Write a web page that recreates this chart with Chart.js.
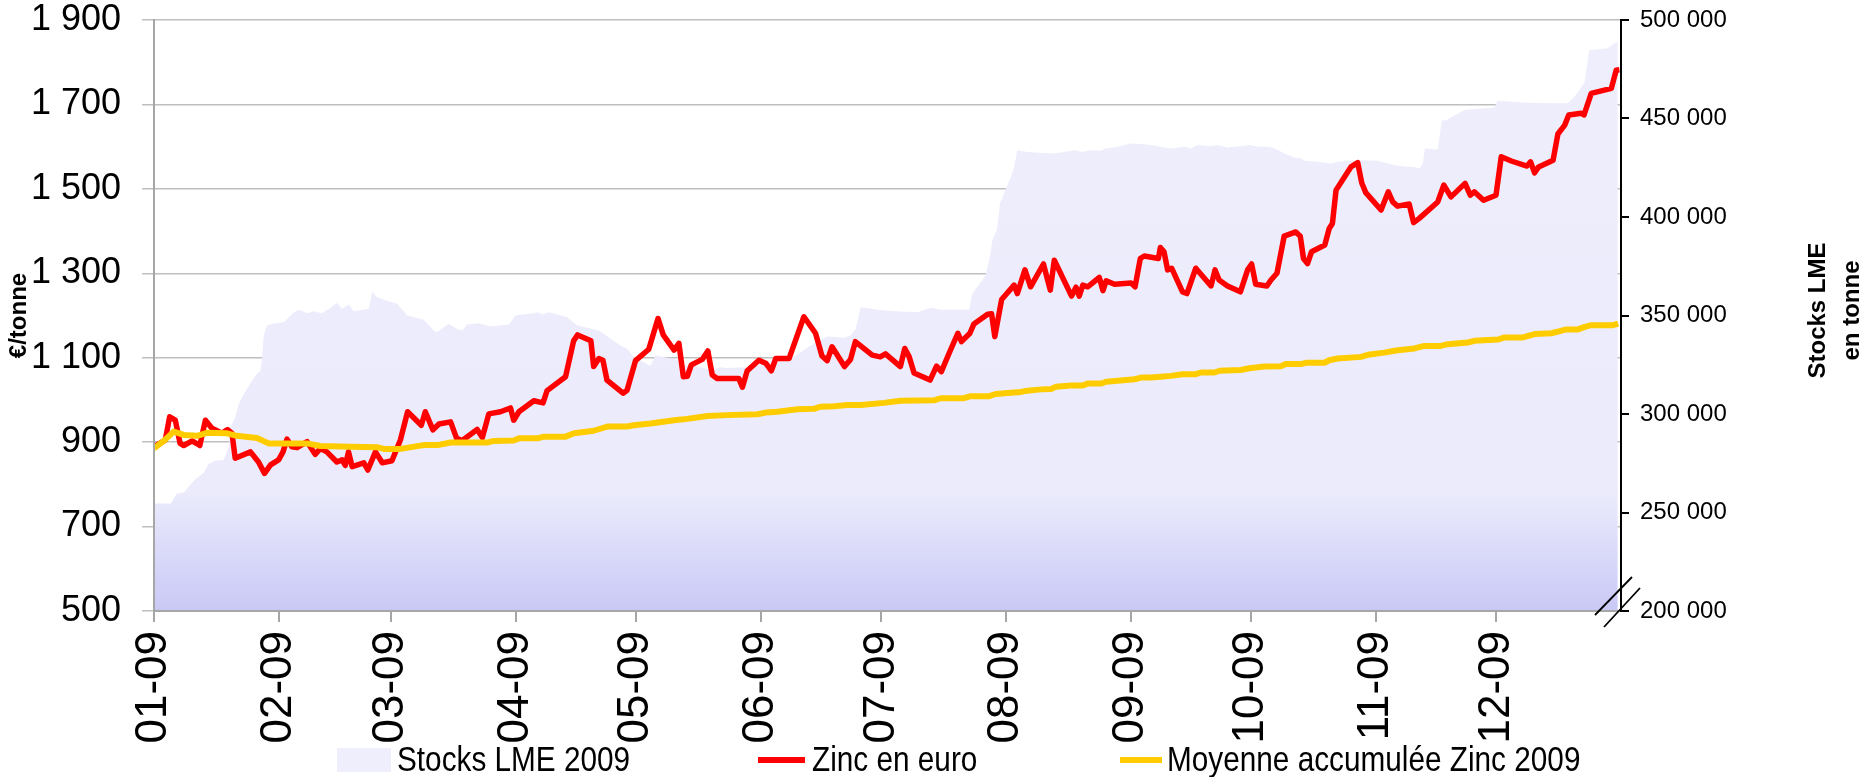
<!DOCTYPE html>
<html lang="fr">
<head>
<meta charset="utf-8">
<title>Zinc 2009</title>
<script src="https://cdn.jsdelivr.net/npm/chart.js@4.4.1/dist/chart.umd.min.js"></script>
<style>
    html, body { margin: 0; padding: 0; background: #fff; }
    #wrap { width: 1868px; height: 777px; }
</style>
</head>
<body>
<div id="wrap"><canvas id="zincChart" width="1868" height="777"></canvas></div>
<script>
// --- 1. Data (day of year 2009, 0 = 1 Jan) ---

const MONTH_DAYS = [0, 31, 59, 90, 120, 151, 181, 212, 243, 273, 304, 334];
const MONTH_LABELS = ['01-09', '02-09', '03-09', '04-09', '05-09', '06-09',
                      '07-09', '08-09', '09-09', '10-09', '11-09', '12-09'];

const PRICE_TICKS = { min: 500, max: 1900, step: 200 };
const STOCK_TICKS = { min: 200000, max: 500000, step: 50000 };

// Zinc en euro (€/tonne)
const ZINC_DAYS = [
    0, 2.8, 3.9, 5.3, 6.5, 7.4, 9.5, 11.4, 12.8, 14.4, 16.9, 18.3, 19.4, 20.2, 24, 26, 27.5, 29,
    31, 32.1, 33.1, 34.3, 35.6, 38.1, 40.1, 41.4, 43, 45.5, 46.8, 47.6, 48.4, 49.3, 52.2, 53.2,
    55.1, 56.8, 59.2, 61.3, 63.1, 66.5, 67.5, 69.4, 70.9, 73.8, 75.3, 76.7, 80.4, 81.7, 83.3,
    86.2, 88.7, 89.5, 90.8, 94.5, 96.8, 97.8, 102.4, 104.4, 105.4, 108.7, 109.4, 110.7, 111.7,
    112.7, 116.7, 117.7, 119.8, 123.1, 125.4, 126.7, 129.4, 130.6, 131.7, 132.7, 133.7, 136.4,
    137.8, 138.9, 140.1, 145.5, 146.4, 147.6, 150.5, 152.2, 153.6, 154.7, 158, 161.7, 164.6,
    166.2, 167.5, 168.7, 171.8, 173.3, 174.5, 178.7, 180.7, 182, 183.6, 185.7, 186.8, 187.9,
    189.1, 193.1, 194.7, 195.9, 197.8, 200, 200.9, 203, 204, 207.4, 208.4, 209.2, 210.9, 214,
    214.8, 216.7, 218.1, 221.3, 223, 224, 228.3, 229.4, 230.2, 231.1, 232.3, 235.2, 236.1, 236.9,
    239, 243.1, 244.1, 245.4, 246.4, 249.9, 250.4, 251.3, 252.2, 253.2, 255.9, 257, 259.2, 263,
    264, 265, 267.1, 270.3, 272.1, 273.1, 274.1, 276.9, 277.9, 279.4, 281.2, 284.1, 285.2, 286,
    287, 288, 291.3, 292.4, 293.2, 294.1, 297.8, 299.5, 300.5, 301.5, 305.3, 307.1, 308.2, 309.4,
    312.3, 313.4, 314.8, 319.4, 320.9, 322.7, 326.2, 327.5, 328.5, 330.8, 333.9, 335.2, 337.7,
    341.6, 342.5, 343.5, 344.5, 348.1, 349.3, 351, 352, 355.1, 355.8, 357.6, 362.6, 363.8, 364.6
];
const ZINC_EUR = [
    889, 905, 960, 952, 897, 892, 903, 892, 952, 933, 921, 930, 921, 862, 877, 853, 826, 846,
    858, 877, 907, 889, 887, 901, 871, 885, 877, 853, 858, 845, 877, 842, 851, 834,
    877, 851, 856, 905, 972, 940, 972, 929, 943, 948, 909, 904, 930, 911, 967,
    972, 981, 952, 972, 998, 993, 1022, 1055, 1140, 1154, 1140, 1079, 1098, 1094,
    1047, 1016, 1023, 1093, 1120, 1193, 1154, 1118, 1134, 1055, 1056, 1083, 1096,
    1116, 1059, 1051, 1051, 1030, 1069, 1094, 1087, 1069, 1098, 1098, 1197, 1158,
    1104, 1093, 1126, 1079, 1096, 1138, 1106, 1102, 1109, 1096, 1079, 1122, 1102,
    1064, 1047, 1080, 1067, 1110, 1158, 1138, 1158, 1180, 1203, 1204, 1150, 1238, 1272,
    1252, 1308, 1268, 1322, 1260, 1331, 1246, 1267, 1246, 1272, 1268, 1290, 1259, 1282,
    1274, 1277, 1268, 1335, 1341, 1335, 1361, 1351, 1308, 1312, 1256, 1252, 1312, 1270,
    1308, 1284, 1270, 1256, 1308, 1322, 1274, 1270, 1284, 1300, 1388, 1398, 1388, 1335,
    1323, 1351, 1367, 1406, 1418, 1497, 1552, 1562, 1514, 1491, 1450, 1493, 1469, 1459,
    1464, 1420, 1430, 1469, 1509, 1481, 1513, 1485, 1493, 1473, 1485, 1576, 1566,
    1554, 1564, 1538, 1552, 1568, 1630, 1651, 1675, 1679, 1675, 1726, 1738, 1781, 1782
];

// Moyenne accumulée Zinc 2009 (€/tonne)
const AVG_DAYS = [
    0, 2.8, 4.9, 7.4, 10.7, 13.2, 18.2, 20.6, 25.6, 28.5, 38.1, 41.4, 48.9, 55.5, 57.2, 61.3,
    67.1, 70.5, 73.8, 82.9, 84.5, 89.5, 90.8, 95.4, 97, 102.4, 104.5, 109.4, 112.8, 117.7, 119.4,
    123.5, 129.4, 131.8, 137.7, 142.6, 150.1, 152.2, 155.1, 160.1, 164.2, 165.9, 169.2, 172.5,
    175.8, 181.6, 185.7, 194.1, 195.7, 201.5, 203.2, 207.8, 209.4, 213.2, 215.7, 217.3, 220.7,
    223.2, 224.4, 228.2, 231.1, 232.3, 235.7, 236.9, 244, 245.6, 248.1, 250.5, 253, 255.9, 259.2,
    260.5, 263.8, 265.1, 270.4, 272.5, 276.2, 280.4, 281.6, 285.4, 286.6, 291.2, 292.4, 294.5,
    300.3, 302, 306.1, 309, 313.6, 316.1, 320.2, 321.9, 326.9, 328.5, 334.4, 336, 340.6, 343.5,
    347.7, 349.3, 351.4, 354.3, 356, 357.6, 363, 364.3
];
const AVG_EUR = [
    885, 906, 925, 917, 915, 922, 921, 915, 910, 897, 897, 891, 889, 888, 884, 884,
    893, 893, 899, 899, 903, 904, 909, 909, 913, 913, 921, 927, 937, 937, 940,
    944, 952, 954, 962, 964, 966, 970, 972, 978, 979, 984, 985, 988,
    988, 993, 998, 999, 1004, 1004, 1009, 1009, 1014, 1017, 1019, 1022, 1025,
    1026, 1031, 1034, 1034, 1039, 1039, 1043, 1049, 1053, 1053, 1055, 1057, 1061, 1061,
    1065, 1065, 1069, 1071, 1075, 1079, 1080, 1085, 1085, 1088, 1088, 1094, 1098,
    1102, 1107, 1112, 1117, 1122, 1128, 1128, 1132, 1136, 1140, 1143, 1148, 1148, 1156,
    1158, 1162, 1167, 1167, 1173, 1177, 1177, 1181
];

// Stocks LME 2009 (tonnes)
const STOCK_DAYS = [
    0, 4.2, 5.7, 7.4, 9.9, 12.4, 13.6, 15.3, 17.3, 18.6, 19, 20.2, 21.1, 21.9, 24.4, 25.6, 26.5,
    26.9, 27.3, 28.1, 30.2, 32.3, 34.8, 36, 38.1, 39.7, 41.8, 43.9, 45.5, 46.8, 48.5, 49.7, 53.4,
    54.3, 55.5, 58, 60.5, 61.3, 63, 67.1, 69.6, 70.4, 73.3, 75.4, 76.7, 77.9, 80.8, 83.7, 88.3,
    89.9, 94.5, 95.5, 96.8, 98.2, 102.8, 105.3, 110.7, 113.6, 116.1, 117.7, 119.4, 123.5, 124.8,
    127.7, 130.2, 131.8, 134.3, 137.7, 138.9, 140.6, 142.6, 146.8, 147.6, 151, 156.3, 159.3,
    163.4, 167.5, 171.7, 173.3, 174.6, 175.8, 178.3, 181.6, 185.7, 190, 193.3, 195.7, 202.8,
    203.6, 206.9, 207.8, 208.6, 209.8, 210.5, 211.9, 213.2, 214, 214.8, 217.3, 221.5, 224, 225.6,
    229, 231, 233.1, 235.6, 236.8, 239.7, 243.1, 245.6, 248.1, 251.3, 253, 256.3, 258, 259.6,
    263, 264.6, 267.1, 270.4, 272.5, 274.6, 277.5, 279.5, 281.2, 283.7, 285.4, 286.2, 289.5,
    292.9, 294.5, 297.8, 301.2, 304.5, 307.8, 310.3, 313.6, 314.8, 315.7, 316.2, 319.4, 320.4,
    321.9, 322.7, 326, 330.2, 333.5, 334.3, 341.8, 348.4, 351.7, 353.4, 355.9, 357.1, 361.7,
    363.3, 364.2
];
const STOCK_T = [
    254600, 254600, 259700, 260200, 266100, 270300, 274600, 276300, 276600, 283000, 293200,
    298300, 305100, 308500, 317000, 320400, 322000, 328000, 339800, 344900, 346100, 346600,
    351700, 352900, 351200, 352200, 351200, 353900, 356300, 353400, 355600, 352200, 353400,
    361900, 359300, 357300, 356000, 354000, 350000, 347800, 342400, 341500, 345800, 343200,
    342400, 345400, 346100, 344400, 345400, 350000, 351200, 351700, 350500, 351700, 349100,
    344900, 342400, 338200, 334800, 333100, 328800, 324500, 329700, 328500, 327500, 324600,
    324600, 322900, 322000, 323700, 323400, 323700, 322000, 325400, 327500, 329200, 334800,
    339300, 338700, 339800, 343200, 354200, 353400, 352600, 352000, 351700, 353900, 352900,
    352900, 361000, 370300, 378000, 388100, 394100, 406800, 413900, 420300, 425400, 433900,
    433000, 432500, 432200, 432700, 433900, 433000, 433900, 433600, 434800, 435600, 437300,
    437000, 436500, 435300, 434800, 435600, 434800, 436500, 435900, 436500, 435300, 435900,
    436500, 435600, 435600, 434300, 432200, 430200, 429700, 428500, 428000, 427100, 428000,
    428500, 428800, 428500, 426800, 425800, 425400, 424600, 427100, 434800, 434300, 448800,
    449500, 450500, 454300, 455100, 455600, 459000, 458000, 457700, 457700, 461000, 468100,
    484800, 485600, 488200, 489000
];

// --- 2. Helpers ---

const FONT = '"Liberation Sans", Arial, sans-serif';

function spaced(v) {
    return String(v).replace(/\B(?=(\d{3})+(?!\d))/g, ' ');
}

function toPoints(days, values) {
    return days.map((d, i) => ({ x: d, y: values[i] }));
}

function stockFill(context) {
    const chart = context.chart;
    const area = chart.chartArea;
    if (!area) return '#EEEEFC';
    const g = chart.ctx.createLinearGradient(0, area.top, 0, area.bottom);
    g.addColorStop(0, '#EEEEFC');
    g.addColorStop(0.8, '#EBEBFC');
    g.addColorStop(1, '#C9C9F6');
    return g;
}

// fixed plot box: keep Chart.js from adding label padding above the plot
function fixVertical(width) {
    return scale => {
        scale.width = width;
        scale.paddingTop = 20;
        scale.paddingBottom = 0;
    };
}

// Right axis title (reads bottom to top), axis break marks and bottom legend
const decorPlugin = {
    id: 'decor',
    afterDraw(chart) {
        const ctx = chart.ctx;
        const area = chart.chartArea;
        const midY = (area.top + area.bottom) / 2 - 5;
        const titleX = area.right + 214;

        ctx.save();
        ctx.fillStyle = '#000';
        ctx.font = 'bold 24px ' + FONT;
        ctx.textAlign = 'center';
        ctx.textBaseline = 'middle';
        ctx.translate(titleX, midY);
        ctx.rotate(-Math.PI / 2);
        ctx.fillText('Stocks LME', 0, -17);
        ctx.fillText('en tonne', 0, 17);
        ctx.restore();

        // "//" break on the right axis
        ctx.save();
        ctx.strokeStyle = '#000';
        ctx.lineWidth = 1.8;
        ctx.beginPath();
        ctx.moveTo(area.right - 26, area.bottom + 4);
        ctx.lineTo(area.right + 11, area.bottom - 34);
        ctx.moveTo(area.right - 17, area.bottom + 16);
        ctx.lineTo(area.right + 19, area.bottom - 23);
        ctx.stroke();
        ctx.restore();

        // legend
        const ds = chart.data.datasets;
        const legendY = 760;
        const items = [
            { set: ds[2], kind: 'box', x: 337, w: 54, textX: 397 },
            { set: ds[1], kind: 'line', x: 758, w: 47, textX: 812 },
            { set: ds[0], kind: 'line', x: 1120, w: 42, textX: 1167 }
        ];
        ctx.save();
        items.forEach(item => {
            if (item.kind === 'box') {
                ctx.fillStyle = '#EEEEFC';
                ctx.fillRect(item.x, legendY - 12, item.w, 24);
            } else {
                ctx.strokeStyle = item.set.borderColor;
                ctx.lineWidth = 6;
                ctx.beginPath();
                ctx.moveTo(item.x, legendY);
                ctx.lineTo(item.x + item.w, legendY);
                ctx.stroke();
            }
            ctx.save();
            ctx.translate(item.textX, legendY);
            ctx.scale(0.85, 1);
            ctx.fillStyle = '#000';
            ctx.font = '35px ' + FONT;
            ctx.textAlign = 'left';
            ctx.textBaseline = 'middle';
            ctx.fillText(item.set.label, 0, 1);
            ctx.restore();
        });
        ctx.restore();
    }
};

// --- 3. Chart ---

function initChart() {
    const canvas = document.getElementById('zincChart');

    new Chart(canvas.getContext('2d'), {
        type: 'line',
        data: {
            datasets: [
                {
                    label: 'Moyenne accumulée Zinc 2009',
                    data: toPoints(AVG_DAYS, AVG_EUR),
                    borderColor: '#FFCC00',
                    borderWidth: 6,
                    yAxisID: 'y',
                    order: 0
                },
                {
                    label: 'Zinc en euro',
                    data: toPoints(ZINC_DAYS, ZINC_EUR),
                    borderColor: '#FF0000',
                    borderWidth: 5.5,
                    yAxisID: 'y',
                    order: 1
                },
                {
                    label: 'Stocks LME 2009',
                    data: toPoints(STOCK_DAYS, STOCK_T),
                    borderWidth: 0,
                    borderColor: 'rgba(0,0,0,0)',
                    backgroundColor: stockFill,
                    fill: 'start',
                    yAxisID: 'y1',
                    order: 2
                }
            ]
        },
        options: {
            responsive: false,
            devicePixelRatio: 1,
            animation: false,
            layout: { padding: { top: 0, left: 0, right: 0, bottom: 0 } },
            elements: {
                point: { radius: 0, hoverRadius: 0 },
                line: { tension: 0, borderJoinStyle: 'round' }
            },
            plugins: {
                legend: { display: false },
                tooltip: { enabled: false }
            },
            scales: {
                x: {
                    type: 'linear',
                    min: 0,
                    max: 365,
                    afterBuildTicks: scale => {
                        scale.ticks = MONTH_DAYS.map(v => ({ value: v }));
                    },
                    afterFit: scale => { scale.height = 166; },
                    grid: { drawOnChartArea: false, tickLength: 11, color: '#A6A6A6', lineWidth: 2 },
                    border: { color: '#A6A6A6', width: 2, z: 1 },
                    ticks: {
                        autoSkip: false,
                        minRotation: 90,
                        maxRotation: 90,
                        padding: 9,
                        color: '#000',
                        font: { family: FONT, size: 44 },
                        callback: value => MONTH_LABELS[MONTH_DAYS.indexOf(value)]
                    }
                },
                y: {
                    position: 'left',
                    min: PRICE_TICKS.min,
                    max: PRICE_TICKS.max,
                    afterFit: fixVertical(154),
                    grid: { color: '#BFBFBF', lineWidth: 1.5, tickLength: 12 },
                    border: { color: '#A6A6A6', width: 2, z: 1 },
                    ticks: {
                        stepSize: PRICE_TICKS.step,
                        padding: 21,
                        color: '#000',
                        font: { family: FONT, size: 36 },
                        callback: v => spaced(v)
                    },
                    title: {
                        display: true,
                        text: '€/tonne',
                        color: '#000',
                        padding: { top: 5, bottom: 0 },
                        font: { family: FONT, size: 24, weight: 'bold' }
                    }
                },
                y1: {
                    position: 'right',
                    min: STOCK_TICKS.min,
                    max: STOCK_TICKS.max,
                    afterFit: fixVertical(247),
                    grid: { drawOnChartArea: false, color: '#000', lineWidth: 2, tickLength: 8 },
                    border: { color: '#000', width: 2, z: 1 },
                    ticks: {
                        stepSize: STOCK_TICKS.step,
                        padding: 11,
                        color: '#000',
                        font: { family: FONT, size: 24 },
                        callback: v => spaced(v)
                    }
                }
            }
        },
        plugins: [decorPlugin]
    });
}

document.addEventListener('DOMContentLoaded', initChart);
</script>
</body>
</html>
